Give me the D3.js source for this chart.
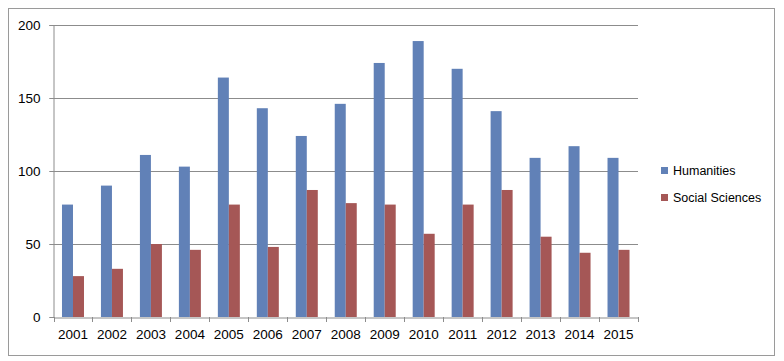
<!DOCTYPE html>
<html><head><meta charset="utf-8">
<script src="https://cdn.jsdelivr.net/npm/d3@7"></script>
<style>body{margin:0;background:#fff}svg{display:block}text{font-family:"Liberation Sans",Arial,sans-serif;fill:#000}</style>
</head><body>
<script>
const years = ["2001","2002","2003","2004","2005","2006","2007","2008","2009","2010","2011","2012","2013","2014","2015"];
const humanities = [77,90,111,103,164,143,124,146,174,189,170,141,109,117,109];
const socialSciences = [28,33,50,46,77,48,87,78,77,57,77,87,55,44,46];
const seriesNames = ["Humanities","Social Sciences"];
const seriesColors = ["#6181B7","#A55756"];
const yTicks = [0,50,100,150,200];

const W=784,H=361;
const svg=d3.select("body").append("svg").attr("width",W).attr("height",H);
svg.append("rect").attr("x",8.5).attr("y",8.5).attr("width",766).attr("height",347)
  .attr("fill","#fff").attr("stroke","#9a9a9a");

const L=53.5,R=638,T=25,B=317;
const x=d3.scaleBand().domain(years).range([L,R]);
const y=d3.scaleLinear().domain([0,200]).range([B,T]);
const inner=d3.scaleBand().domain([0,1]).range([0,22]);

// gridlines
svg.append("g").selectAll("line").data(yTicks.filter(d=>d>0)).join("line")
  .attr("x1",L-4).attr("x2",R).attr("y1",d=>Math.round(y(d))+0.5).attr("y2",d=>Math.round(y(d))+0.5)
  .attr("stroke","#8c8c8c").attr("stroke-width",1);

const data=[humanities,socialSciences];
const g=svg.append("g");
years.forEach((yr,i)=>{
  data.forEach((s,k)=>{
    const x0=x(yr)+(x.bandwidth()-22)/2+inner(k);
    g.append("rect").attr("x",x0).attr("y",y(s[i])).attr("width",inner.bandwidth()).attr("height",B-y(s[i]))
      .attr("fill",seriesColors[k]);
  });
});

// y axis
const yAxis=svg.append("g").attr("transform",`translate(${L},0)`)
  .call(d3.axisLeft(y).tickValues(yTicks).tickSize(4).tickPadding(9));
yAxis.select(".domain").attr("stroke","#8c8c8c");
yAxis.selectAll(".tick line").attr("stroke","#8c8c8c");
yAxis.selectAll("text").attr("font-size","13.5px").attr("font-family","Liberation Sans, Arial, sans-serif");

// x axis
const xAxis=svg.append("g").attr("transform",`translate(0,${B+0.5})`)
  .call(d3.axisBottom(x).tickSize(0).tickPadding(12));
xAxis.select(".domain").attr("stroke","#8c8c8c");
xAxis.selectAll("text").attr("font-size","13.5px").attr("font-family","Liberation Sans, Arial, sans-serif");
svg.append("g").selectAll("line").data(years.concat(["end"])).join("line")
  .attr("x1",(d,i)=>Math.round(L+i*x.step())+0.5).attr("x2",(d,i)=>Math.round(L+i*x.step())+0.5)
  .attr("y1",B).attr("y2",B+5).attr("stroke","#8c8c8c");

// legend
const lg=svg.append("g");
seriesNames.forEach((n,k)=>{
  lg.append("rect").attr("x",661).attr("y",167+k*27).attr("width",7).attr("height",7).attr("fill",seriesColors[k]);
  lg.append("text").attr("x",673).attr("y",171+k*27).attr("dy","0.35em").attr("font-size","12.5px").text(n);
});
</script>
</body></html>
